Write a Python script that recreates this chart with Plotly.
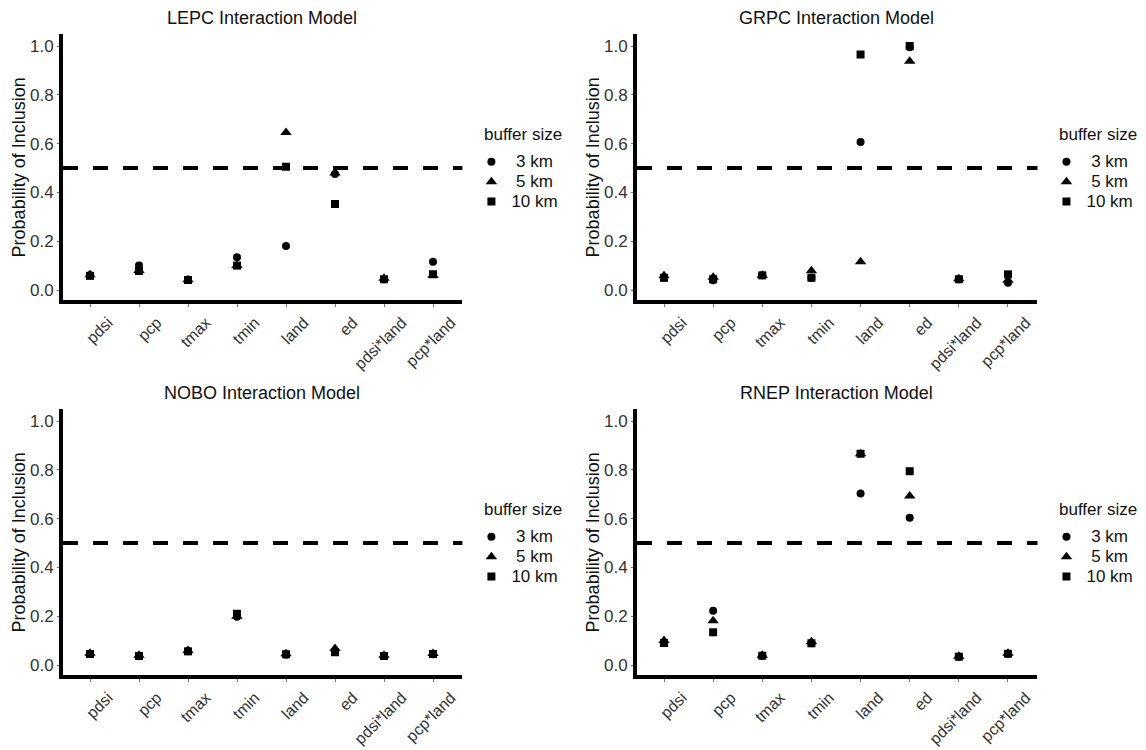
import plotly.graph_objects as go

categories = ["pdsi", "pcp", "tmax", "tmin", "land", "ed", "pdsi*land", "pcp*land"]
buffer_sizes = ["3 km", "5 km", "10 km"]
y_ticks = [0.0, 0.2, 0.4, 0.6, 0.8, 1.0]
y_tick_text = ["0.0", "0.2", "0.4", "0.6", "0.8", "1.0"]
threshold = 0.5

# LEPC
lepc_3km = [0.060, 0.100, 0.041, 0.134, 0.180, 0.475, 0.044, 0.116]
lepc_5km = [0.062, 0.080, 0.042, 0.100, 0.645, 0.480, 0.048, 0.060]
lepc_10km = [0.058, 0.078, 0.041, 0.100, 0.505, 0.352, 0.044, 0.065]

# GRPC
grpc_3km = [0.050, 0.040, 0.060, 0.050, 0.607, 0.995, 0.044, 0.030]
grpc_5km = [0.058, 0.052, 0.060, 0.079, 0.116, 0.937, 0.046, 0.040]
grpc_10km = [0.050, 0.044, 0.060, 0.050, 0.965, 1.000, 0.044, 0.064]

# NOBO
nobo_3km = [0.045, 0.036, 0.056, 0.198, 0.042, 0.055, 0.037, 0.044]
nobo_5km = [0.048, 0.040, 0.059, 0.200, 0.046, 0.068, 0.040, 0.047]
nobo_10km = [0.045, 0.037, 0.056, 0.210, 0.044, 0.052, 0.037, 0.045]

# RNEP
rnep_3km = [0.090, 0.222, 0.038, 0.089, 0.703, 0.603, 0.034, 0.046]
rnep_5km = [0.100, 0.181, 0.040, 0.095, 0.866, 0.693, 0.036, 0.048]
rnep_10km = [0.090, 0.134, 0.038, 0.089, 0.866, 0.794, 0.034, 0.046]

panels = [
    ("LEPC Interaction Model", [lepc_3km, lepc_5km, lepc_10km]),
    ("GRPC Interaction Model", [grpc_3km, grpc_5km, grpc_10km]),
    ("NOBO Interaction Model", [nobo_3km, nobo_5km, nobo_10km]),
    ("RNEP Interaction Model", [rnep_3km, rnep_5km, rnep_10km]),
]

W, H = 1146, 750
FONT = "Arial, Liberation Sans, sans-serif"
symbols = ["circle", "triangle-up", "square"]
sizes = [8, 10, 8]

# panel geometry in pixels: (x of first category, px per category, axis-line x,
#                            y of value 0, px per unit, x-axis-line y)
panel_geo = [
    (90.0, 49.0, 61.0, 290.0, 244.0, 302.0),
    (664.0, 49.14, 635.0, 290.0, 244.0, 302.0),
    (90.0, 49.0, 61.0, 665.0, 244.0, 677.0),
    (664.0, 49.14, 635.0, 665.0, 244.0, 677.0),
]
LW = 4

fig = go.Figure()
layout = {}
annotations = []
shapes = []

for i, ((title, series), geo) in enumerate(zip(panels, panel_geo)):
    x0px, dx, yline_x, y0px, dy, xline_y = geo
    n = "" if i == 0 else str(i + 1)
    xa, ya = "x" + n, "y" + n
    leg = "legend" + n
    ncat = len(categories)
    # domain edges (plotly draws axis line just outside the domain)
    left = yline_x + LW / 2
    right = x0px + dx * (ncat - 1 + 0.6)
    bottom = xline_y - LW / 2
    top = y0px - dy * 1.05
    xr = [(left - x0px) / dx, ncat - 1 + 0.6]
    yr = [(y0px - bottom) / dy, 1.05]

    for s, vals in enumerate(series):
        label = buffer_sizes[s].rjust(5, "\u00a0")
        fig.add_trace(go.Scatter(
            x=categories, y=vals, mode="markers",
            name='<span style="font-size:17px">' + label + "</span>",
            marker=dict(symbol=symbols[s], size=sizes[s], color="black",
                        line=dict(width=0)),
            xaxis=xa, yaxis=ya, legend=leg, showlegend=True,
        ))
    layout["xaxis" + n] = dict(
        domain=[left / W, right / W], anchor=ya, type="category",
        categoryorder="array", categoryarray=categories, range=xr,
        showline=True, linewidth=LW, linecolor="black", showgrid=False,
        zeroline=False, ticks="outside", ticklen=3, tickcolor="#777",
        tickwidth=1, tickangle=-45, ticklabelstandoff=0, ticklabelshift=18,
        automargin=False,
        tickfont=dict(family=FONT, size=16, color="#333"),
    )
    layout["yaxis" + n] = dict(
        domain=[1 - bottom / H, 1 - top / H], anchor=xa, range=yr,
        tickvals=y_ticks, ticktext=y_tick_text, automargin=False,
        showline=True, linewidth=LW, linecolor="black", showgrid=False,
        zeroline=False, ticks="outside", ticklen=2, tickcolor="#777", tickwidth=1,
        tickfont=dict(family=FONT, size=17, color="#333"),
    )
    title_x = right + 20
    layout[leg] = dict(
        x=(title_x - 11) / W, y=1 - (top + 113) / H, xanchor="left", yanchor="top",
        font=dict(family=FONT, size=13, color="#111"),
        bgcolor="rgba(0,0,0,0)", borderwidth=0, tracegroupgap=0,
        itemsizing="trace",
    )
    annotations.append(dict(
        text="buffer size", xref="paper", yref="paper", x=title_x / W,
        y=1 - (top + 101) / H, xanchor="left", yanchor="middle", showarrow=False,
        font=dict(family=FONT, size=17, color="#111"),
    ))
    annotations.append(dict(
        text=title, xref="paper", yref="paper", x=(yline_x + right) / 2 / W,
        y=1 - (top - 16) / H, xanchor="center", yanchor="middle", showarrow=False,
        font=dict(family=FONT, size=18, color="#111"),
    ))
    annotations.append(dict(
        text="Probability of Inclusion", xref="paper", yref="paper",
        x=(yline_x - 42.5) / W, y=1 - (top + xline_y) / 2 / H, textangle=-90,
        xanchor="center", yanchor="middle", showarrow=False,
        font=dict(family=FONT, size=18, color="#111"),
    ))
    shapes.append(dict(
        type="line", xref=xa + " domain", yref=ya, x0=0, x1=1,
        y0=threshold, y1=threshold,
        line=dict(color="black", width=4, dash="15px,15px"),
    ))

fig.update_layout(
    width=W, height=H, margin=dict(l=0, r=0, t=0, b=0, autoexpand=False),
    plot_bgcolor="white", paper_bgcolor="white", hovermode=False,
    annotations=annotations, shapes=shapes, **layout,
)

fig.write_html("out.html", config={"displayModeBar": False},
               post_script="document.body.style.margin='0px';")
